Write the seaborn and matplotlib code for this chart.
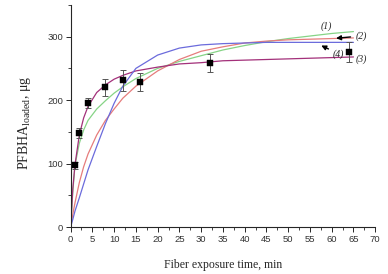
import pandas as pd
import seaborn as sns
import matplotlib.pyplot as plt

# measured points
time_min = [1, 2, 4, 8, 12, 16, 32, 64]
loaded_ug = [97, 148, 196, 220, 231, 228, 258, 276]
loaded_err = [6, 8, 8, 13, 16, 14, 14, 16]

# fitted curves
curve_x = [0, 0.5, 1, 2, 3, 4, 6, 8, 10, 12, 15, 20, 25, 30, 35, 40, 45, 50, 55, 60, 65]
curve1 = [0, 55, 97, 132, 153, 168, 186, 199, 211, 221, 234, 250, 261, 270, 279, 286, 292, 297, 301, 305, 308]
curve2 = [0, 20, 38, 70, 95, 115, 145, 168, 186, 203, 222, 246, 264, 277, 284, 290, 293, 295, 296, 297, 298]
curve3 = [0, 60, 98, 145, 172, 190, 212, 224, 233, 239, 246, 252, 257, 259, 262, 263, 264, 265, 266, 267, 268]
curve4 = [0, 12, 25, 46, 68, 90, 127, 163, 195, 222, 250, 271, 282, 287, 289, 290, 291, 291, 291, 291, 291]

curve_names = ['(1)', '(2)', '(3)', '(4)']
curve_colors = ['#86d486', '#e67c7c', '#a3307a', '#6b6bdc']

sns.set_style('ticks')
plt.rcParams['mathtext.fontset'] = 'custom'
plt.rcParams['mathtext.rm'] = 'Liberation Serif'

curves = pd.DataFrame({
    'x': curve_x * 4,
    'y': curve1 + curve2 + curve3 + curve4,
    'curve': sum([[n] * len(curve_x) for n in curve_names], []),
})
points = pd.DataFrame({'x': time_min, 'y': loaded_ug})

fig = plt.figure(figsize=(3.88, 2.74), dpi=100)
ax = fig.add_axes([0.182, 0.1715, 0.785, 0.8105])

sns.lineplot(data=curves, x='x', y='y', hue='curve', palette=curve_colors,
             linewidth=0.9, sort=False, legend=False, ax=ax)
ax.errorbar(time_min, loaded_ug, yerr=loaded_err, fmt='none', ecolor='#555555',
            elinewidth=0.7, capsize=2, capthick=0.7, zorder=3)
sns.scatterplot(data=points, x='x', y='y', marker='s', color='black', s=18,
                edgecolor='black', linewidth=0.3, zorder=4, ax=ax)

ax.set_xlim(0, 70)
ax.set_ylim(0, 350)
ax.set_xticks(range(0, 75, 5))
ax.set_xticks([x + 2.5 for x in range(0, 70, 5)], minor=True)
ax.set_yticks([0, 100, 200, 300])
ax.set_yticks([50, 150, 250, 350], minor=True)
ax.tick_params(which='major', length=3.5, width=0.7, labelsize=6.8,
               labelcolor='#333333', pad=2)
ax.tick_params(which='minor', length=2, width=0.6)
for lab in ax.get_xticklabels() + ax.get_yticklabels():
    lab.set_family('Liberation Sans')
sns.despine(ax=ax)
for s in ['left', 'bottom']:
    ax.spines[s].set_linewidth(0.8)

ax.set_xlabel('Fiber exposure time, min', family='Liberation Serif', fontsize=8.5,
              labelpad=11)
ax.set_ylabel(r'PFBHA$_{\rm loaded}$, μg', family='Liberation Serif', fontsize=10)
ax.yaxis.set_label_coords(-0.125, 0.47)

lab_font = dict(family='Liberation Serif', style='italic', fontsize=7)
arrow = dict(arrowstyle='-|>', color='black', lw=1.0, mutation_scale=7,
             shrinkA=1, shrinkB=0)
ax.text(57.5, 313, '(1)', **lab_font)
ax.annotate('(2)', xy=(61, 297.5), xytext=(65.4, 301), va='center', **lab_font,
            arrowprops=arrow)
ax.annotate('(4)', xy=(57.6, 286), xytext=(60.3, 273), va='center', **lab_font,
            arrowprops=arrow)
ax.text(65.4, 265, '(3)', va='center', **lab_font)

fig.savefig('out.png', dpi=100)
